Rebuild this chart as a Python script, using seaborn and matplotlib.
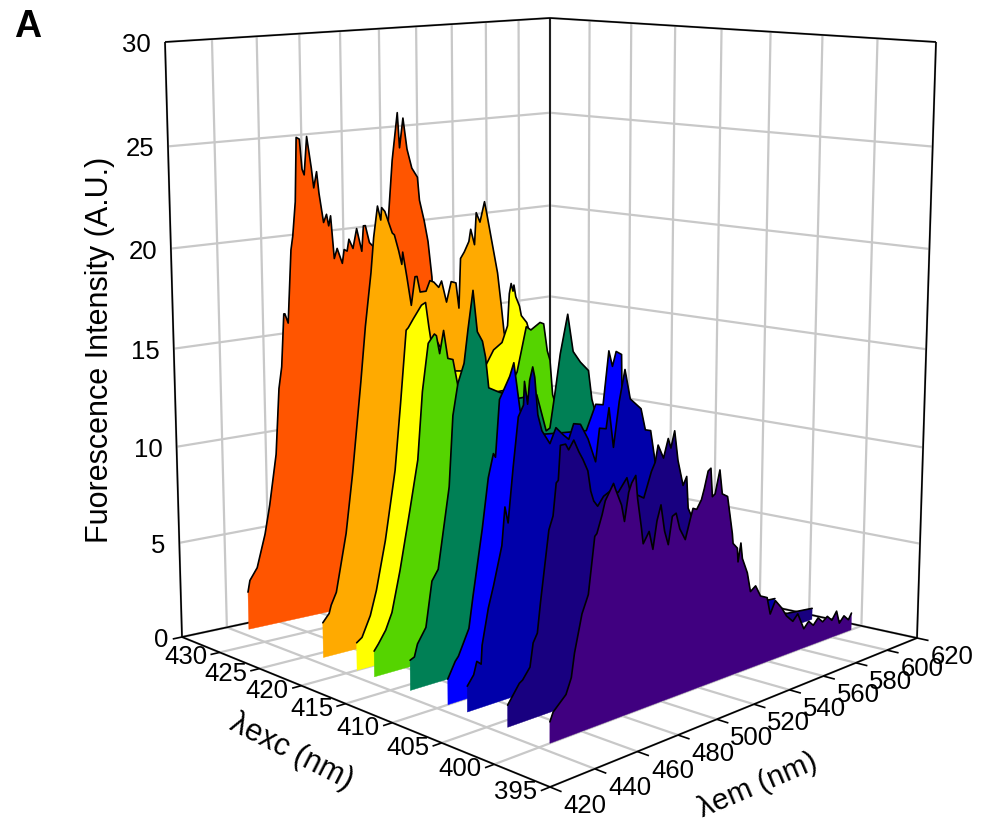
import matplotlib
matplotlib.use("Agg")
import matplotlib.pyplot as plt
import numpy as np
import seaborn as sns

# emission is stored as nm past the start of each scan
em_start = 445
em_ticks = [420, 440, 460, 480, 500, 520, 540, 560, 580, 600, 620]
exc_ticks = [395, 400, 405, 410, 415, 420, 425, 430, 435]
exc_labels = ["395", "400", "405", "410", "415", "420", "425", "430", ""]
int_ticks = [0, 5, 10, 15, 20, 25, 30]

shift_434 = [0, 1, 4.5, 8.5, 11, 14.5, 16.5, 18, 19.5, 20, 21.5, 23.5, 24.5, 26, 27, 28.5, 29.5, 30.5, 32, 34, 35, 36.5, 37.5, 39.5, 41, 42, 43, 44.5, 46, 48.5, 49.5, 51, 52, 54, 56, 58.5, 59.5, 60.5, 62.5, 66, 70, 72.5, 75, 78, 79, 81, 83, 85.5, 88.5, 89.5, 92, 94, 96, 96.5, 102, 111.5, 121, 130, 140, 180]
z_434 = [2.0, 2.6, 3.2, 4.9, 6.4, 9, 12.4, 13.5, 16.2, 16.2, 15.7, 19.4, 20.1, 21.8, 25, 24.9, 23.4, 23.1, 25, 23.4, 22.4, 23.2, 22.1, 20.6, 21, 20.4, 20.9, 18.7, 19.2, 18.4, 19.1, 19, 19.6, 19.1, 20.1, 18.9, 20.2, 20.2, 19.3, 18.9, 19, 20.3, 23.4, 25.8, 24, 25.5, 23.9, 22.9, 22.4, 21.2, 20.1, 19, 17.1, 16, 13.4, 10.3, 6.2, 3.1, 1.5, 0.5]

shift_424 = [0, 3, 4, 6.5, 11.5, 15, 19.5, 22, 25, 26.5, 28.5, 30, 30.5, 32, 35.5, 36.5, 38.5, 40, 40.5, 42.5, 44.5, 46.5, 47.5, 49, 52, 54, 56, 58.5, 60, 62.5, 65, 67.5, 69, 70, 72, 74.5, 75.5, 77.5, 78.5, 80.5, 83, 84, 87, 90, 92, 93.5, 99, 108.5, 118, 127.5, 142, 178]
z_424 = [1.8, 2.2, 2.6, 3.2, 6.1, 9.1, 13.6, 16.3, 18.9, 20.6, 22.1, 21.4, 22, 21.8, 20.7, 20.6, 19.8, 19.1, 19.7, 18.4, 17, 18.4, 18.4, 17.6, 17.6, 18.1, 18, 17.7, 18, 16.9, 17.9, 17.8, 16.5, 19, 19.3, 19.8, 20.4, 19.6, 21.2, 20.7, 21.7, 21.2, 19.6, 18, 16.3, 14.9, 12.5, 8.3, 5.2, 3.1, 1.2, 0.5]

shift_420 = [0, 2.5, 6.5, 9.5, 14, 19, 22, 25, 26, 28.5, 32.5, 34.5, 36, 37, 40, 48, 53.5, 54.5, 56.5, 62, 69, 73.5, 76.5, 77.5, 78.5, 79.5, 80, 81, 83, 84, 87, 90.5, 95.5, 105, 114.5, 124, 143, 176]
z_420 = [1.4, 1.6, 2.6, 3.8, 6.2, 9.6, 12.9, 16.4, 16.5, 16.9, 17.5, 17.6, 16.4, 15.7, 15.6, 14, 13.9, 13.9, 14.4, 13.5, 14.7, 15, 15.8, 17.4, 17.9, 17.5, 17.8, 17.2, 16.7, 16.2, 15.8, 14.6, 12.5, 8.3, 5.2, 3.1, 1.2, 0.5]

shift_418 = [0, 2, 5.5, 8.5, 12.5, 17.5, 21.5, 24, 27, 30, 31, 32.5, 34.5, 36.5, 39, 41.5, 45, 48, 57.5, 67, 72, 77, 79.5, 84.5, 86.5, 88.5, 90, 91.5, 96, 105.5, 115, 125, 144, 175]
z_418 = [1.3, 1.6, 2.2, 3, 5, 7.9, 10.3, 13.6, 15.9, 16.3, 16.2, 15.3, 16.4, 15, 14.9, 13.5, 12.9, 12.5, 12.9, 12.9, 13.7, 15.9, 15.7, 16, 15.9, 14.5, 14, 12.2, 10.8, 7.7, 5.2, 3.1, 1.2, 0.5]

shift_414 = [0, 2, 3.5, 7.5, 10.5, 13.5, 19, 21, 23.5, 26.5, 28.5, 31, 33, 35.5, 37, 38.5, 43.5, 53.5, 63, 68, 70, 73, 75.5, 79.5, 82.5, 86.5, 91, 93, 95, 97, 106.5, 116.5, 126, 145.5, 173]
z_414 = [1.5, 1.6, 2.2, 2.9, 5.1, 5.6, 9.5, 12.9, 14.4, 15.3, 16.9, 18.7, 16.7, 16.2, 15.4, 13.9, 13.6, 13.1, 13.1, 11.2, 11.3, 13.2, 14.9, 16.8, 14.9, 14.3, 13.8, 12.3, 11.6, 11.4, 7.7, 5.2, 3.1, 1.2, 0.5]

shift_410 = [0, 3.5, 5, 10, 12, 16.5, 19.5, 22, 23, 25, 30, 32, 35, 39, 53.5, 69, 74, 78, 81, 83, 85, 88, 88.5, 92.5, 102.5, 112, 127, 146, 172]
z_410 = [1.25, 2, 2.2, 3.4, 4.9, 8, 10.4, 11.5, 11.3, 14, 15, 15.6, 13.3, 12, 11.8, 11.6, 12.8, 12.7, 15.3, 14.5, 15.2, 15, 12.6, 10.4, 7.3, 4.7, 2.6, 1, 0.5]

shift_408 = [0, 3, 4.5, 6.5, 7, 10, 12.5, 16.5, 18, 19.5, 22, 24.5, 27, 27.5, 29, 30, 31.5, 32.5, 34, 36, 40, 43, 46.5, 49.5, 52, 55.5, 59.5, 63.5, 65.5, 69, 70.5, 73, 76, 79, 82, 85, 88, 90.5, 93.5, 96.5, 102.5, 112, 122, 136.5, 151, 172]
z_408 = [1.25, 1.7, 2.3, 2.1, 3, 4.7, 5.7, 7.5, 9.3, 8.5, 11.1, 13.4, 13.9, 15, 13.9, 15, 15.6, 15.1, 13.3, 12.5, 11.8, 12.5, 12.1, 11.8, 12.5, 12.4, 11.6, 10.4, 12, 11.9, 12.9, 10.9, 13.1, 14.6, 13.1, 12.8, 12.5, 11.4, 11.3, 9.5, 7.3, 4.7, 3.1, 1.6, 0.8, 0.6]

shift_404 = [0, 5.5, 7, 10.5, 12, 14, 15.5, 19.5, 21.5, 23, 24, 25, 27.5, 29, 31.5, 34, 36, 38.5, 40, 41.5, 43.5, 46.5, 50.5, 54, 58.5, 61, 64.5, 67.5, 71.5, 73.5, 75, 78, 80.5, 82, 84, 86, 89, 91, 92, 99, 109, 124, 139, 153.5, 170]
z_404 = [1.05, 1.9, 2, 2.5, 3.6, 4, 5.4, 8.7, 9.3, 10.8, 10.9, 12.5, 12.5, 12.2, 12.6, 12, 11.6, 11, 10, 9.5, 9.2, 9.6, 9.8, 9.6, 10.2, 9.2, 9.2, 9, 10.2, 10.6, 11.4, 10.7, 11.6, 11.1, 11.9, 10.4, 9.1, 9.5, 7.9, 6.3, 4.2, 2.3, 1.3, 0.8, 0.6]

shift_400 = [0, 1.5, 7.5, 10, 11.5, 15, 18, 21, 22, 24.5, 26, 30, 31, 34, 35.5, 37.5, 39, 41, 42, 44, 45, 48, 50, 52, 54, 56, 58, 60, 62, 64, 67, 69.5, 71, 73, 75.5, 77, 79, 80.5, 81.5, 83, 85.5, 87, 90, 93, 93.5, 96, 96.5, 98, 99, 102, 104, 107, 110, 114, 116, 119, 123, 126, 130, 133, 137, 140, 143, 146, 149, 152, 155, 158, 160, 163, 166, 168]
z_400 = [1, 1.4, 2, 2.7, 3.8, 5.5, 6.3, 8.9, 9, 9.8, 10.4, 11.1, 10.8, 10, 9.2, 10.5, 10.9, 11.2, 10.1, 8.7, 7.9, 8.4, 7.5, 8.8, 9.5, 8.2, 7.5, 8.8, 8.9, 8.1, 7.5, 8.4, 8.9, 8.8, 9.2, 9.7, 10.5, 10.6, 9.2, 9.3, 10.4, 9.2, 9, 7.1, 6.6, 6.3, 5.6, 6.5, 5.7, 4.9, 3.9, 4.1, 3.5, 3.3, 2.4, 3, 2.5, 2, 1.6, 1.9, 1, 1.3, 1, 1.3, 1, 1.2, 0.9, 1.3, 0.6, 0.9, 0.6, 0.9]

exc_values = [433.5, 424, 420, 418, 414, 410, 408, 404, 400]
em_shifts = [shift_434, shift_424, shift_420, shift_418, shift_414, shift_410, shift_408, shift_404, shift_400]
intensities = [z_434, z_424, z_420, z_418, z_414, z_410, z_408, z_404, z_400]
colors = ["#FF5500", "#FFAA00", "#FFFF00", "#55D400", "#008055", "#0000FF", "#0000AA", "#180080", "#400080"]

# corners of the box on the page: front, right, back, left
floor_corners = np.array([[550, 787], [917, 638], [550, 558], [182, 637]], dtype=float)
top_corners = np.array([[550, 67], [936, 42], [550, 18], [165, 42]], dtype=float)
GRID = "#c8c8c8"


def warp(u, c=0.25):
    return (1 + c) * u / (1 + c * u)


def project(em, exc, z):
    a = warp((np.asarray(em, dtype=float) - 420) / 200)
    b = warp((np.asarray(exc, dtype=float) - 395) / 40)
    u = np.asarray(z, dtype=float) / 30
    u = 0.94 * u / (1 - 0.06 * u)
    weights = [(1 - a) * (1 - b), a * (1 - b), a * b, (1 - a) * b]
    x_f = sum(w * c for w, c in zip(weights, floor_corners[:, 0]))
    y_f = sum(w * c for w, c in zip(weights, floor_corners[:, 1]))
    x_t = sum(w * c for w, c in zip(weights, top_corners[:, 0]))
    y_t = sum(w * c for w, c in zip(weights, top_corners[:, 1]))
    return x_f + (x_t - x_f) * u, y_f + (y_t - y_f) * u


def seg(ax, p, q, color, lw, zorder=2):
    (x0, y0), (x1, y1) = project(*p), project(*q)
    ax.plot([x0, x1], [y0, y1], color=color, lw=lw, zorder=zorder, solid_capstyle="butt")


sns.set_theme(style="white")
plt.rcParams["font.family"] = ["Liberation Sans", "DejaVu Sans"]
plt.rcParams["text.color"] = "black"
palette = sns.color_palette(colors)

fig = plt.figure(figsize=(9.9, 8.24), dpi=100)
ax = fig.add_axes([0, 0, 1, 1])

for em in em_ticks:
    seg(ax, (em, 395, 0), (em, 435, 0), GRID, 1.6)
    seg(ax, (em, 435, 0), (em, 435, 30), GRID, 1.6)
for exc in exc_ticks:
    seg(ax, (420, exc, 0), (620, exc, 0), GRID, 1.6)
    seg(ax, (620, exc, 0), (620, exc, 30), GRID, 1.6)
for level in int_ticks:
    seg(ax, (420, 435, level), (620, 435, level), GRID, 1.6)
    seg(ax, (620, 395, level), (620, 435, level), GRID, 1.6)

# black frame of the box
for p, q in [((420, 395, 0), (620, 395, 0)), ((420, 395, 0), (420, 435, 0)),
             ((420, 435, 0), (620, 435, 0)), ((620, 395, 0), (620, 435, 0)),
             ((420, 435, 0), (420, 435, 30)), ((620, 435, 0), (620, 435, 30)),
             ((620, 395, 0), (620, 395, 30)), ((420, 435, 30), (620, 435, 30)),
             ((620, 395, 30), (620, 435, 30))]:
    seg(ax, p, q, "black", 1.2, zorder=3)

for em in em_ticks:
    seg(ax, (em, 395, 0), (em, 394, 0), "black", 1.2, zorder=3)
    x, y = project(em, 395, 0)
    ax.text(x + 35, y + 19, str(em), fontsize=18.5, ha="center", va="center")
for exc, label in zip(exc_ticks, exc_labels):
    seg(ax, (420, exc, 0), (416, exc, 0), "black", 1.2, zorder=3)
    x, y = project(420, exc, 0)
    ax.text(x - 34, y + 5, label, fontsize=18.5, ha="center", va="center")
for level in int_ticks:
    x, y = project(420, 435, level)
    ax.text(x - 14, y + 3, str(level), fontsize=18.5, ha="right", va="center")

# back to front so the nearer scans cover the farther ones
for i, (exc, shift, z, color) in enumerate(zip(exc_values, em_shifts, intensities, palette)):
    em = em_start + np.array(shift)
    x, y = project(em, exc, np.array(z))
    x0, y0 = project(em, exc, 0)
    ax.fill(np.r_[x, x0[::-1]], np.r_[y, y0[::-1]], facecolor=color, edgecolor=color, lw=0.3, zorder=10 + 2 * i)
    sns.lineplot(x=x, y=y, sort=False, estimator=None, color="black", lw=1.2, ax=ax, zorder=11 + 2 * i, legend=False)

ax.set_xlim(0, 990)
ax.set_ylim(824, 0)
ax.axis("off")

ax.text(100, 350, "Fuorescence Intensity (A.U.)", rotation=90, fontsize=22, ha="center", va="center")
ax.text(292, 752, "λexc (nm)", rotation=-27, fontsize=22, ha="center", va="center", rotation_mode="anchor")
ax.text(758, 785, "λem (nm)", rotation=23, fontsize=21.5, ha="center", va="center", rotation_mode="anchor")
ax.text(14, 27, "A", fontsize=27, fontweight="bold", ha="left", va="center")

fig.savefig("out.png", dpi=100)
